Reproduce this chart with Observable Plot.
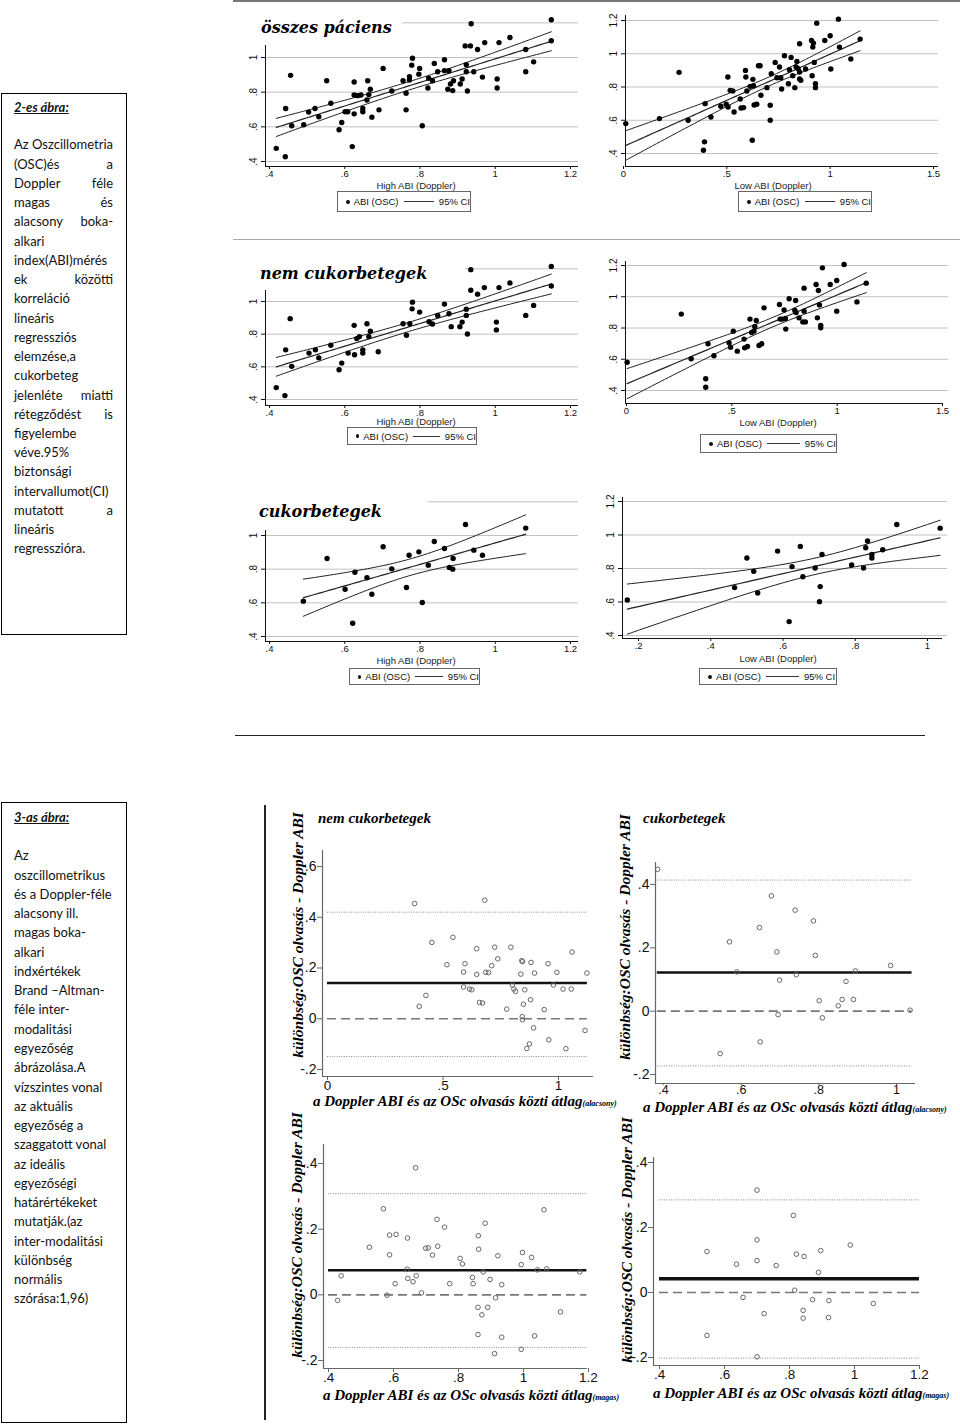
<!DOCTYPE html>
<html><head><meta charset="utf-8">
<script src="https://cdn.jsdelivr.net/npm/d3@7"></script>
<script src="https://cdn.jsdelivr.net/npm/@observablehq/plot@0.6"></script>
<style>
body{margin:0;background:#fff;}
#page{position:relative;width:960px;height:1425px;overflow:hidden;background:#fff;font-family:"Liberation Sans",Arial,sans-serif;}
.abs{position:absolute;white-space:nowrap;}
.box{position:absolute;border:1.6px solid #000;box-sizing:border-box;background:#fff;}
.tl{position:absolute;left:14px;width:99px;font-family:Lato,"Open Sans",sans-serif;font-size:13px;line-height:19.25px;height:19.25px;white-space:nowrap;color:#111;}
.jl{display:flex;justify-content:space-between;}
.ttl{font-weight:bold;font-style:italic;text-decoration:underline;}
.sct{font-family:"DejaVu Serif",serif;font-weight:bold;font-style:italic;font-size:16px;color:#000;}
.bat{font-family:"Liberation Serif",serif;font-weight:bold;font-style:italic;font-size:15px;line-height:1;color:#000;}
.axt{font-family:"Liberation Sans",Arial,sans-serif;font-size:9.5px;line-height:10px;color:#222;}
.leg{position:absolute;border:1px solid #666;box-sizing:border-box;display:flex;align-items:center;white-space:nowrap;font-family:"Liberation Sans",Arial,sans-serif;font-size:9.5px;color:#111;background:#fff;}
.leg span{white-space:nowrap;}
.pl{position:absolute;}
.pl svg{overflow:visible;}
</style></head>
<body><div id="page"></div>
<script>
// ---------- Data ----------
// Fig 2 – High ABI, all patients
const hiAllDoppler = [.418,.442,.443,.456,.459,.491,.504,.521,.531,.552,.563,.585,.592,.601,.608,.620,.625,.625,.625,.634,.643,.648,.648,.659,.661,.664,.668,.672,.691,.702,.725,.755,.763,.763,.772,.772,.778,.780,.797,.799,.806,.821,.823,.833,.838,.847,.865,.865,.877,.874,.881,.887,.889,.907,.912,.920,.923,.923,.926,.934,.936,.943,.953,.966,.972,1.005,1.005,1.010,1.039,1.081,1.081,1.102,1.149,1.149];
const hiAllOSC = [.476,.427,.706,.897,.606,.612,.685,.706,.658,.866,.736,.583,.625,.687,.687,.486,.859,.784,.675,.780,.784,.706,.687,.755,.866,.786,.817,.656,.698,.937,.807,.866,.698,.794,.870,.889,.956,.996,.904,.937,.606,.824,.880,.866,.966,.918,.987,.924,.924,.817,.847,.809,.866,.847,.876,1.067,.958,.918,.807,1.067,1.195,.918,1.046,.887,1.086,.876,.824,1.086,1.115,1.046,.918,.975,1.218,1.097];
// Fig 2 – Low ABI, all patients
const loAllDoppler = [.011,.174,.269,.313,.392,.387,.395,.423,.471,.497,.505,.506,.516,.529,.535,.565,.569,.581,.590,.592,.597,.613,.623,.626,.629,.632,.645,.653,.661,.665,.694,.710,.710,.715,.734,.742,.755,.761,.765,.779,.798,.803,.811,.819,.829,.835,.839,.845,.852,.852,.852,.858,.881,.910,.913,.916,.919,.923,.929,.929,.935,.974,1.0,1.003,1.040,1.045,1.10,1.145];
const loAllOSC = [.58,.61,.888,.60,.47,.42,.70,.62,.684,.696,.86,.68,.78,.776,.65,.728,.674,.676,.90,.86,.776,.804,.48,.846,.808,.692,.696,.928,.928,.75,.796,.69,.60,.88,.948,.856,.92,.856,.788,.988,.82,.904,.978,.868,.796,.92,.954,.91,.89,1.06,.848,.84,.908,1.08,.868,1.04,1.064,.948,.82,.796,1.184,1.08,1.108,.908,1.208,1.04,.968,1.088];
// Fig 2 – non-diabetic
const hiNonDoppler = [.418,.441,.443,.455,.459,.505,.522,.531,.563,.585,.592,.609,.625,.626,.632,.639,.648,.648,.659,.664,.668,.689,.755,.764,.773,.779,.780,.799,.824,.833,.847,.865,.877,.883,.906,.912,.923,.923,.926,.935,.935,.953,.971,1.003,1.003,1.010,1.039,1.081,1.102,1.149,1.149];
const hiNonOSC = [.473,.424,.704,.895,.603,.684,.704,.655,.732,.582,.623,.684,.854,.674,.773,.785,.704,.684,.864,.785,.818,.692,.864,.793,.864,.955,.996,.935,.876,.862,.915,.984,.925,.846,.846,.874,.953,.915,.801,1.195,1.069,1.045,1.085,.874,.826,1.085,1.114,.915,.976,1.215,1.095];
const loNonDoppler = [.003,.260,.307,.376,.376,.387,.415,.487,.494,.507,.526,.558,.561,.574,.586,.594,.605,.609,.616,.629,.642,.653,.726,.729,.739,.748,.754,.756,.772,.799,.803,.805,.819,.837,.843,.843,.849,.900,.906,.911,.916,.922,.922,.930,.967,.998,.998,1.033,1.094,1.138];
const loNonOSC = [.581,.889,.603,.475,.421,.699,.622,.705,.677,.780,.652,.729,.673,.682,.857,.771,.780,.810,.848,.688,.699,.929,.950,.857,.857,.916,.861,.793,.987,.912,.976,.899,.865,.839,1.055,.908,.839,1.078,.865,1.040,.948,.816,.801,1.185,1.078,1.104,.908,1.206,.967,1.087];
// Fig 2 – diabetic
const hiDiabDoppler = [.490,.553,.601,.621,.627,.659,.672,.702,.725,.764,.771,.797,.806,.822,.838,.865,.878,.887,.888,.921,.943,.966,1.081];
const hiDiabOSC = [.610,.863,.681,.479,.782,.749,.651,.933,.802,.691,.883,.903,.602,.824,.964,.923,.810,.800,.863,1.065,.913,.883,1.044];
const loDiabDoppler = [.169,.466,.500,.519,.530,.585,.617,.625,.648,.655,.689,.701,.703,.708,.790,.823,.829,.834,.846,.846,.876,.915,1.035];
const loDiabOSC = [.612,.686,.863,.783,.654,.904,.483,.811,.932,.751,.803,.602,.692,.884,.821,.803,.924,.964,.884,.863,.912,1.063,1.041];

// Fig 3 – Bland–Altman (mean of methods, difference OSC − Doppler)
const baLowNonMean = [.377,.397,.426,.452,.517,.543,.589,.595,.589,.615,.625,.646,.646,.658,.671,.681,.685,.697,.711,.724,.737,.776,.794,.800,.807,.814,.837,.841,.844,.843,.844,.848,.854,.863,.874,.879,.881,.892,.896,.938,.958,.955,.978,.993,1.020,1.032,1.055,1.059,1.115,1.123];
const baLowNonDiff = [.454,.049,.092,.301,.213,.321,.184,.217,.125,.117,.114,.175,.276,.064,.062,.467,.183,.182,.209,.282,.236,.038,.282,.133,.117,.108,.176,.229,.225,.008,-.004,.057,.114,-.117,-.099,.075,.222,-.036,.180,.036,-.083,.217,.133,.183,.117,-.118,.117,.263,-.046,.180];
const baLowDiabMean = [.385,.546,.570,.589,.647,.649,.678,.692,.699,.695,.739,.742,.786,.791,.801,.809,.850,.860,.870,.889,.894,.985,1.035];
const baLowDiabDiff = [.448,-.134,.219,.124,.264,-.097,.364,.187,.098,-.011,.319,.115,.285,.176,.033,-.021,.017,.037,.094,.037,.127,.144,.003];
const baHighNonMean = [.428,.439,.526,.569,.580,.588,.588,.605,.608,.643,.642,.644,.660,.668,.670,.686,.699,.707,.720,.734,.736,.757,.773,.805,.812,.843,.845,.860,.860,.861,.862,.872,.876,.882,.890,.897,.911,.914,.921,.933,.933,.993,.993,.997,1.025,1.034,1.043,1.063,1.071,1.114,1.173];
const baHighNonDiff = [-.017,.058,.145,.262,-.001,.182,.122,.034,.184,.173,.078,.050,.040,.387,.058,.006,.142,.143,.121,.230,.148,.206,.034,.111,.094,.053,.034,-.038,-.121,.180,.139,-.061,.070,.218,-.038,.047,-.179,-.009,.119,.031,-.129,-.166,.092,.129,.114,-.125,.076,.259,.079,-.052,.070];
const baHighDiabMean = [.546,.546,.637,.657,.700,.700,.700,.700,.722,.759,.812,.816,.821,.842,.842,.845,.871,.889,.896,.920,.921,.987,1.058];
const baHighDiabDiff = [.126,-.132,.087,-.015,.315,.162,.098,-.198,-.065,.083,.237,.007,.118,-.055,-.079,.111,-.022,.062,.129,-.077,-.025,.146,-.034];
// Bland–Altman reference values: [mean difference, upper limit, lower limit]
const baLowNonLimits = [.141, .42, -.149];
const baLowDiabLimits = [.122, .414, -.173];
const baHighNonLimits = [.075, .308, -.160];
const baHighDiabLimits = [.042, .285, -.202];

// Tick values
const ticksHighX = [.4,.6,.8,1,1.2];
const ticksLowX = [0,.5,1,1.5];
const ticksLowDiabX = [.2,.4,.6,.8,1];
const ticksOscY = [.4,.6,.8,1,1.2];

// Text
const fig2Title = "2-es ábra:";
const fig2Lines = [["Az Oszcillometria",1],["(OSC)és a",1],["Doppler féle",1],["magas és",1],["alacsony boka-",1],["alkari",0],["index(ABI)mérés",0],["ek közötti",1],["korreláció",0],["lineáris",0],["regressziós",0],["elemzése,a",0],["cukorbeteg",0],["jelenléte miatti",1],["rétegződést is",1],["figyelembe",0],["véve.95%",0],["biztonsági",0],["intervallumot(CI)",0],["mutatott a",1],["lineáris",0],["regresszióra.",0]];
const fig3Title = "3-as ábra:";
const fig3Lines = ["Az","oszcillometrikus","és a Doppler-féle","alacsony ill.","magas boka-","alkari","indxértékek","Brand –Altman-","féle inter-","modalitási","egyezőség","ábrázolása.A","vízszintes vonal","az aktuális","egyezőség a","szaggatott vonal","az ideális","egyezőségi","határértékeket","mutatják.(az","inter-modalitási","különbség","normális","szórása:1,96)"];

// ---------- helpers ----------
const page = document.getElementById("page");
function el(tag, cls, css, html) {
  const e = document.createElement(tag);
  if (cls) e.className = cls;
  Object.assign(e.style, css || {});
  if (html != null) e.innerHTML = html;
  page.appendChild(e);
  return e;
}
const fmt = d => d === 0 ? "0" : String(+d.toFixed(2)).replace(/^(-?)0\./, "$1.");
const cal = (a, b) => p => a[0] + (p - a[1]) * (b[0] - a[0]) / (b[1] - a[1]);
const zip = (xs, ys) => xs.map((x, i) => ({x, y: ys[i]}));

// OLS fit with 95% confidence band of the mean prediction (as drawn by lfitci)
function fitBand(xs, ys) {
  const n = xs.length, mx = d3.mean(xs), my = d3.mean(ys);
  let sxx = 0, sxy = 0;
  for (let i = 0; i < n; i++) { sxx += (xs[i]-mx)**2; sxy += (xs[i]-mx)*(ys[i]-my); }
  const b = sxy / sxx, a = my - b * mx;
  let sse = 0;
  for (let i = 0; i < n; i++) sse += (ys[i] - a - b*xs[i])**2;
  const s = Math.sqrt(sse / (n - 2)), df = n - 2;
  const t = 1.96 + 2.372/df + 2.823/(df*df);
  const [x0, x1] = d3.extent(xs);
  const xsGrid = d3.ticks(x0, x1, 60).filter(v => v > x0 && v < x1);
  return [x0, ...xsGrid, x1].map(x => {
    const yh = a + b*x, se = s * Math.sqrt(1/n + (x-mx)**2/sxx);
    return {x, fit: yh, lo: yh - t*se, hi: yh + t*se};
  });
}

function place(svg, left, top, w) {
  const d = el("div", "pl", {left: left+"px", top: top+"px", width: w+"px"});
  d.appendChild(svg);
}

function scatterPanel(c) {
  const fx = cal(...c.xcal), fy = cal(...c.ycal);
  const xd = [fx(c.frame[0]), fx(c.frame[1])];
  const yd = [fy(c.frame[3]), fy(c.frame[2])];
  const grid = ticksOscY.map(v => ({y: v, x1: (v === 1.2 && c.grid12From) ? fx(c.grid12From) : xd[0], x2: xd[1]}));
  const band = fitBand(c.xs, c.ys);
  const yLab = c.yLabels;
  const svg = Plot.plot({
    width: c.w, height: c.h,
    marginLeft: c.frame[0] - c.left, marginRight: c.left + c.w - c.frame[1],
    marginTop: c.frame[2] - c.top, marginBottom: c.top + c.h - c.frame[3],
    style: {fontFamily: "Liberation Sans, Arial, sans-serif", fontSize: "10px", background: "transparent", overflow: "visible"},
    x: {domain: xd, axis: null}, y: {domain: yd, axis: null},
    marks: [
      Plot.ruleY(grid, {y: "y", x1: "x1", x2: "x2", stroke: "#c2c2c2", strokeWidth: 1}),
      Plot.ruleX([{x: xd[0], y1: yd[0], y2: fy(c.yAxisTop)}], {x: "x", y1: "y1", y2: "y2", stroke: "#111", strokeWidth: 1}),
      Plot.ruleY([{y: yd[0], x1: xd[0], x2: fx(c.xAxisEnd || c.frame[1])}], {y: "y", x1: "x1", x2: "x2", stroke: "#111", strokeWidth: 1}),
      Plot.axisX({ticks: c.xTicks, tickSize: 3, tickPadding: 1, tickFormat: fmt, label: null, fontSize: 9.5, color: "#111"}),
      Plot.axisY({ticks: yLab, tickSize: 4, tickFormat: () => "", label: null, color: "#111"}),
      Plot.text(yLab, {x: xd[0], y: d => d, text: fmt, rotate: -90, dx: -12, textAnchor: "middle", fontSize: 10, fill: "#111"}),
      Plot.line(band, {x: "x", y: "hi", stroke: "#222", strokeWidth: 1}),
      Plot.line(band, {x: "x", y: "fit", stroke: "#222", strokeWidth: 1.2}),
      Plot.line(band, {x: "x", y: "lo", stroke: "#222", strokeWidth: 1}),
      Plot.dot(zip(c.xs, c.ys), {x: "x", y: "y", r: 2.7, fill: "#000", stroke: "none"})
    ]
  });
  place(svg, c.left, c.top, c.w);
  // axis title
  el("div", "abs axt", {left: c.xTitle[0]+"px", top: c.xTitle[1]+"px", transform: "translate(-50%,-50%)"}, c.xTitleText);
  // legend
  const [lx0, ly0, lx1, ly1] = c.legend;
  const lg = el("div", "leg", {left: lx0+"px", top: ly0+"px", width: (lx1-lx0)+"px", height: (ly1-ly0)+"px"});
  lg.innerHTML = `<span style="display:inline-block;width:4px;height:4px;border-radius:50%;background:#111;margin-left:8px"></span><span style="margin-left:4px">ABI (OSC)</span><span style="display:inline-block;width:33px;border-top:1px solid #333;margin:0 5px"></span><span>95% CI</span>`;
  if (c.title) el("div", "abs sct", {left: c.title[0]+"px", top: c.title[1]+"px", transform: "translateY(-50%)"}, c.titleText);
}

function baPanel(c) {
  const fx = cal(...c.xcal), fy = cal(...c.ycal);
  const xd = [fx(c.frame[0]), fx(c.frame[1])];
  const yd = [fy(c.frame[3]), fy(c.frame[2])];
  const [mean, hi, lo] = c.limits;
  const lx = c.lineX;
  const svg = Plot.plot({
    width: c.w, height: c.h,
    marginLeft: c.frame[0] - c.left, marginRight: c.left + c.w - c.frame[1],
    marginTop: c.frame[2] - c.top, marginBottom: c.top + c.h - c.frame[3],
    style: {fontFamily: "Liberation Sans, Arial, sans-serif", fontSize: "14px", background: "transparent", overflow: "visible"},
    x: {domain: xd, axis: null}, y: {domain: yd, axis: null},
    marks: [
      Plot.ruleX([xd[0]], {stroke: "#666", strokeWidth: 1.2}),
      Plot.ruleY([yd[0]], {stroke: "#666", strokeWidth: 1.2}),
      Plot.axisX({ticks: c.xTicks, tickSize: c.xTickSize || 4, tickPadding: 0, tickFormat: fmt, label: null, fontSize: c.xTickFont || 13.5, color: "#111", stroke: "#666"}),
      Plot.axisY({ticks: c.yTicks, tickSize: 5, tickPadding: 1, tickFormat: fmt, label: null, fontSize: 14, color: "#111", stroke: "#666"}),
      Plot.ruleY([hi, lo], {x1: lx[0], x2: lx[1], stroke: "#8a8a8a", strokeWidth: 1, strokeDasharray: "1,1.4"}),
      Plot.ruleY([0], {x1: lx[0], x2: lx[1], stroke: "#777", strokeWidth: 1.6, strokeDasharray: "9,5"}),
      Plot.ruleY([mean], {x1: lx[0], x2: lx[1], stroke: "#111", strokeWidth: c.meanW}),
      Plot.dot(zip(c.xs, c.ys), {x: "x", y: "y", r: 2.3, fill: "none", stroke: "#666", strokeWidth: 1})
    ]
  });
  place(svg, c.left, c.top, c.w);
  el("div", "abs bat", {left: c.yTitle[0]+"px", top: c.yTitle[1]+"px", transform: "translate(-50%,-50%) rotate(-90deg)", fontSize: "15.5px"}, "különbség:OSC olvasás - Doppler ABI");
  el("div", "abs bat", {left: c.xTitle[0]+"px", top: c.xTitle[1]+"px", transform: "translateY(-50%)"},
    `a Doppler ABI és az OSc olvasás közti átlag<span style="font-size:8px">${c.xSub}</span>`);
  if (c.title) el("div", "abs bat", {left: c.title[0]+"px", top: c.title[1]+"px", transform: "translateY(-50%)"}, c.titleText);
}

// ---------- left text boxes ----------
el("div", "box", {left: "1px", top: "93px", width: "126px", height: "542px"});
el("div", "tl ttl", {top: (108 - 9.6)+"px"}, fig2Title);
fig2Lines.forEach(([t, j], i) => {
  const d = el("div", "tl" + (j ? " jl" : ""), {top: (145 - 9.6 + i*19.24)+"px"});
  if (j) d.innerHTML = t.split(" ").map(w => `<span>${w}</span>`).join(""); else d.textContent = t;
});
el("div", "box", {left: "1px", top: "802px", width: "126px", height: "621px"});
el("div", "tl ttl", {top: (818 - 9.6)+"px"}, fig3Title);
fig3Lines.forEach((t, i) => el("div", "tl", {top: (856 - 9.6 + i*19.26)+"px"}, t));

// ---------- frame lines ----------
el("div", "abs", {left: "233px", top: "0px", width: "727px", height: "2px", background: "#777"});
el("div", "abs", {left: "233px", top: "239px", width: "727px", height: "1px", background: "#aaa"});
el("div", "abs", {left: "235px", top: "735px", width: "690px", height: "1px", background: "#222"});
el("div", "abs", {left: "264px", top: "805px", width: "1.5px", height: "615px", background: "#222"});

// ---------- Fig 2 scatter panels ----------
scatterPanel({left: 233, top: 10, w: 355, h: 205, frame: [265, 578, 15, 166], xcal: [[.4,269],[1.2,570]], ycal: [[1,57],[.4,161]],
  xTicks: ticksHighX, yLabels: [.4,.6,.8,1], grid12From: 402, yAxisTop: 45, xs: hiAllDoppler, ys: hiAllOSC,
  xTitle: [416, 185.5], xTitleText: "High ABI (Doppler)", legend: [337,191,471,212], title: [261, 27], titleText: "összes páciens"});
scatterPanel({left: 595, top: 5, w: 355, h: 210, frame: [625, 938, 15, 166], xcal: [[0,623],[1.5,933]], ycal: [[1.2,20],[.4,153]],
  xTicks: ticksLowX, yLabels: ticksOscY, yAxisTop: 15, xs: loAllDoppler, ys: loAllOSC,
  xTitle: [773, 185.5], xTitleText: "Low ABI (Doppler)", legend: [738,191,872,212]});
scatterPanel({left: 233, top: 250, w: 355, h: 205, frame: [265, 578, 255, 405], xcal: [[.4,269],[1.2,570]], ycal: [[1,301],[.4,399]],
  xTicks: ticksHighX, yLabels: [.4,.6,.8,1], grid12From: 465, yAxisTop: 290, xs: hiNonDoppler, ys: hiNonOSC,
  xTitle: [416, 421.5], xTitleText: "High ABI (Doppler)", legend: [347,427,477,445], title: [260, 273], titleText: "nem cukorbetegek"});
scatterPanel({left: 595, top: 245, w: 360, h: 215, frame: [625, 948, 261, 403], xcal: [[0,626],[1.5,942]], ycal: [[1.2,265],[.4,390]],
  xTicks: ticksLowX, yLabels: ticksOscY, yAxisTop: 261, xAxisEnd: 943, xs: loNonDoppler, ys: loNonOSC,
  xTitle: [778, 423], xTitleText: "Low ABI (Doppler)", legend: [700,434,837,453]});
scatterPanel({left: 233, top: 490, w: 355, h: 200, frame: [265, 578, 495, 641], xcal: [[.4,269],[1.2,570]], ycal: [[1,535],[.4,636]],
  xTicks: ticksHighX, yLabels: [.4,.6,.8,1], grid12From: 428, yAxisTop: 530, xs: hiDiabDoppler, ys: hiDiabOSC,
  xTitle: [416, 661], xTitleText: "High ABI (Doppler)", legend: [349,668,480,685], title: [259, 511], titleText: "cukorbetegek"});
scatterPanel({left: 592, top: 487, w: 360, h: 203, frame: [622, 947, 497, 638], xcal: [[.2,638],[1,927]], ycal: [[1.2,501],[.4,635]],
  xTicks: ticksLowDiabX, yLabels: ticksOscY, yAxisTop: 497, xAxisEnd: 942, xs: loDiabDoppler, ys: loDiabOSC,
  xTitle: [778, 659], xTitleText: "Low ABI (Doppler)", legend: [699,668,837,685]});

// ---------- Fig 3 Bland–Altman panels ----------
baPanel({left: 280, top: 830, w: 320, h: 265, frame: [322, 593, 850, 1076], xcal: [[0,327],[1,558]], ycal: [[.6,866],[-.2,1069]],
  xTicks: [0,.5,1], yTicks: [-.2,0,.2,.4,.6], limits: baLowNonLimits, lineX: [0, 1.125], meanW: 2.5,
  xs: baLowNonMean, ys: baLowNonDiff, yTitle: [298, 935], xTitle: [313, 1101], xSub: "(alacsony)", title: [318, 818], titleText: "nem cukorbetegek"});
baPanel({left: 615, top: 845, w: 310, h: 255, frame: [655, 915, 862, 1083], xcal: [[.4,663],[1,896]], ycal: [[.4,884],[-.2,1074]],
  xTicks: [.4,.6,.8,1], yTicks: [-.2,0,.2,.4], limits: baLowDiabLimits, lineX: [.384, 1.04], meanW: 2.5, xTickSize: 2, xTickFont: 12.5,
  xs: baLowDiabMean, ys: baLowDiabDiff, yTitle: [625, 937], xTitle: [643, 1107], xSub: "(alacsony)", title: [643, 818], titleText: "cukorbetegek"});
baPanel({left: 280, top: 1125, w: 320, h: 260, frame: [323, 587, 1144, 1368], xcal: [[.4,328],[1,523]], ycal: [[.4,1163],[-.2,1360]],
  xTicks: [.4,.6,.8,1,1.2], yTicks: [-.2,0,.2,.4], limits: baHighNonLimits, lineX: [.4, 1.195], meanW: 2.5,
  xs: baHighNonMean, ys: baHighNonDiff, yTitle: [297, 1235], xTitle: [323, 1395], xSub: "(magas)"});
baPanel({left: 615, top: 1140, w: 315, h: 245, frame: [653, 920, 1157, 1365], xcal: [[.4,659],[1.2,919]], ycal: [[.4,1162],[-.2,1357]],
  xTicks: [.4,.6,.8,1,1.2], yTicks: [-.2,0,.2,.4], limits: baHighDiabLimits, lineX: [.4, 1.2], meanW: 3.5,
  xs: baHighDiabMean, ys: baHighDiabDiff, yTitle: [627, 1240], xTitle: [653, 1393], xSub: "(magas)"});
</script>
</body></html>
